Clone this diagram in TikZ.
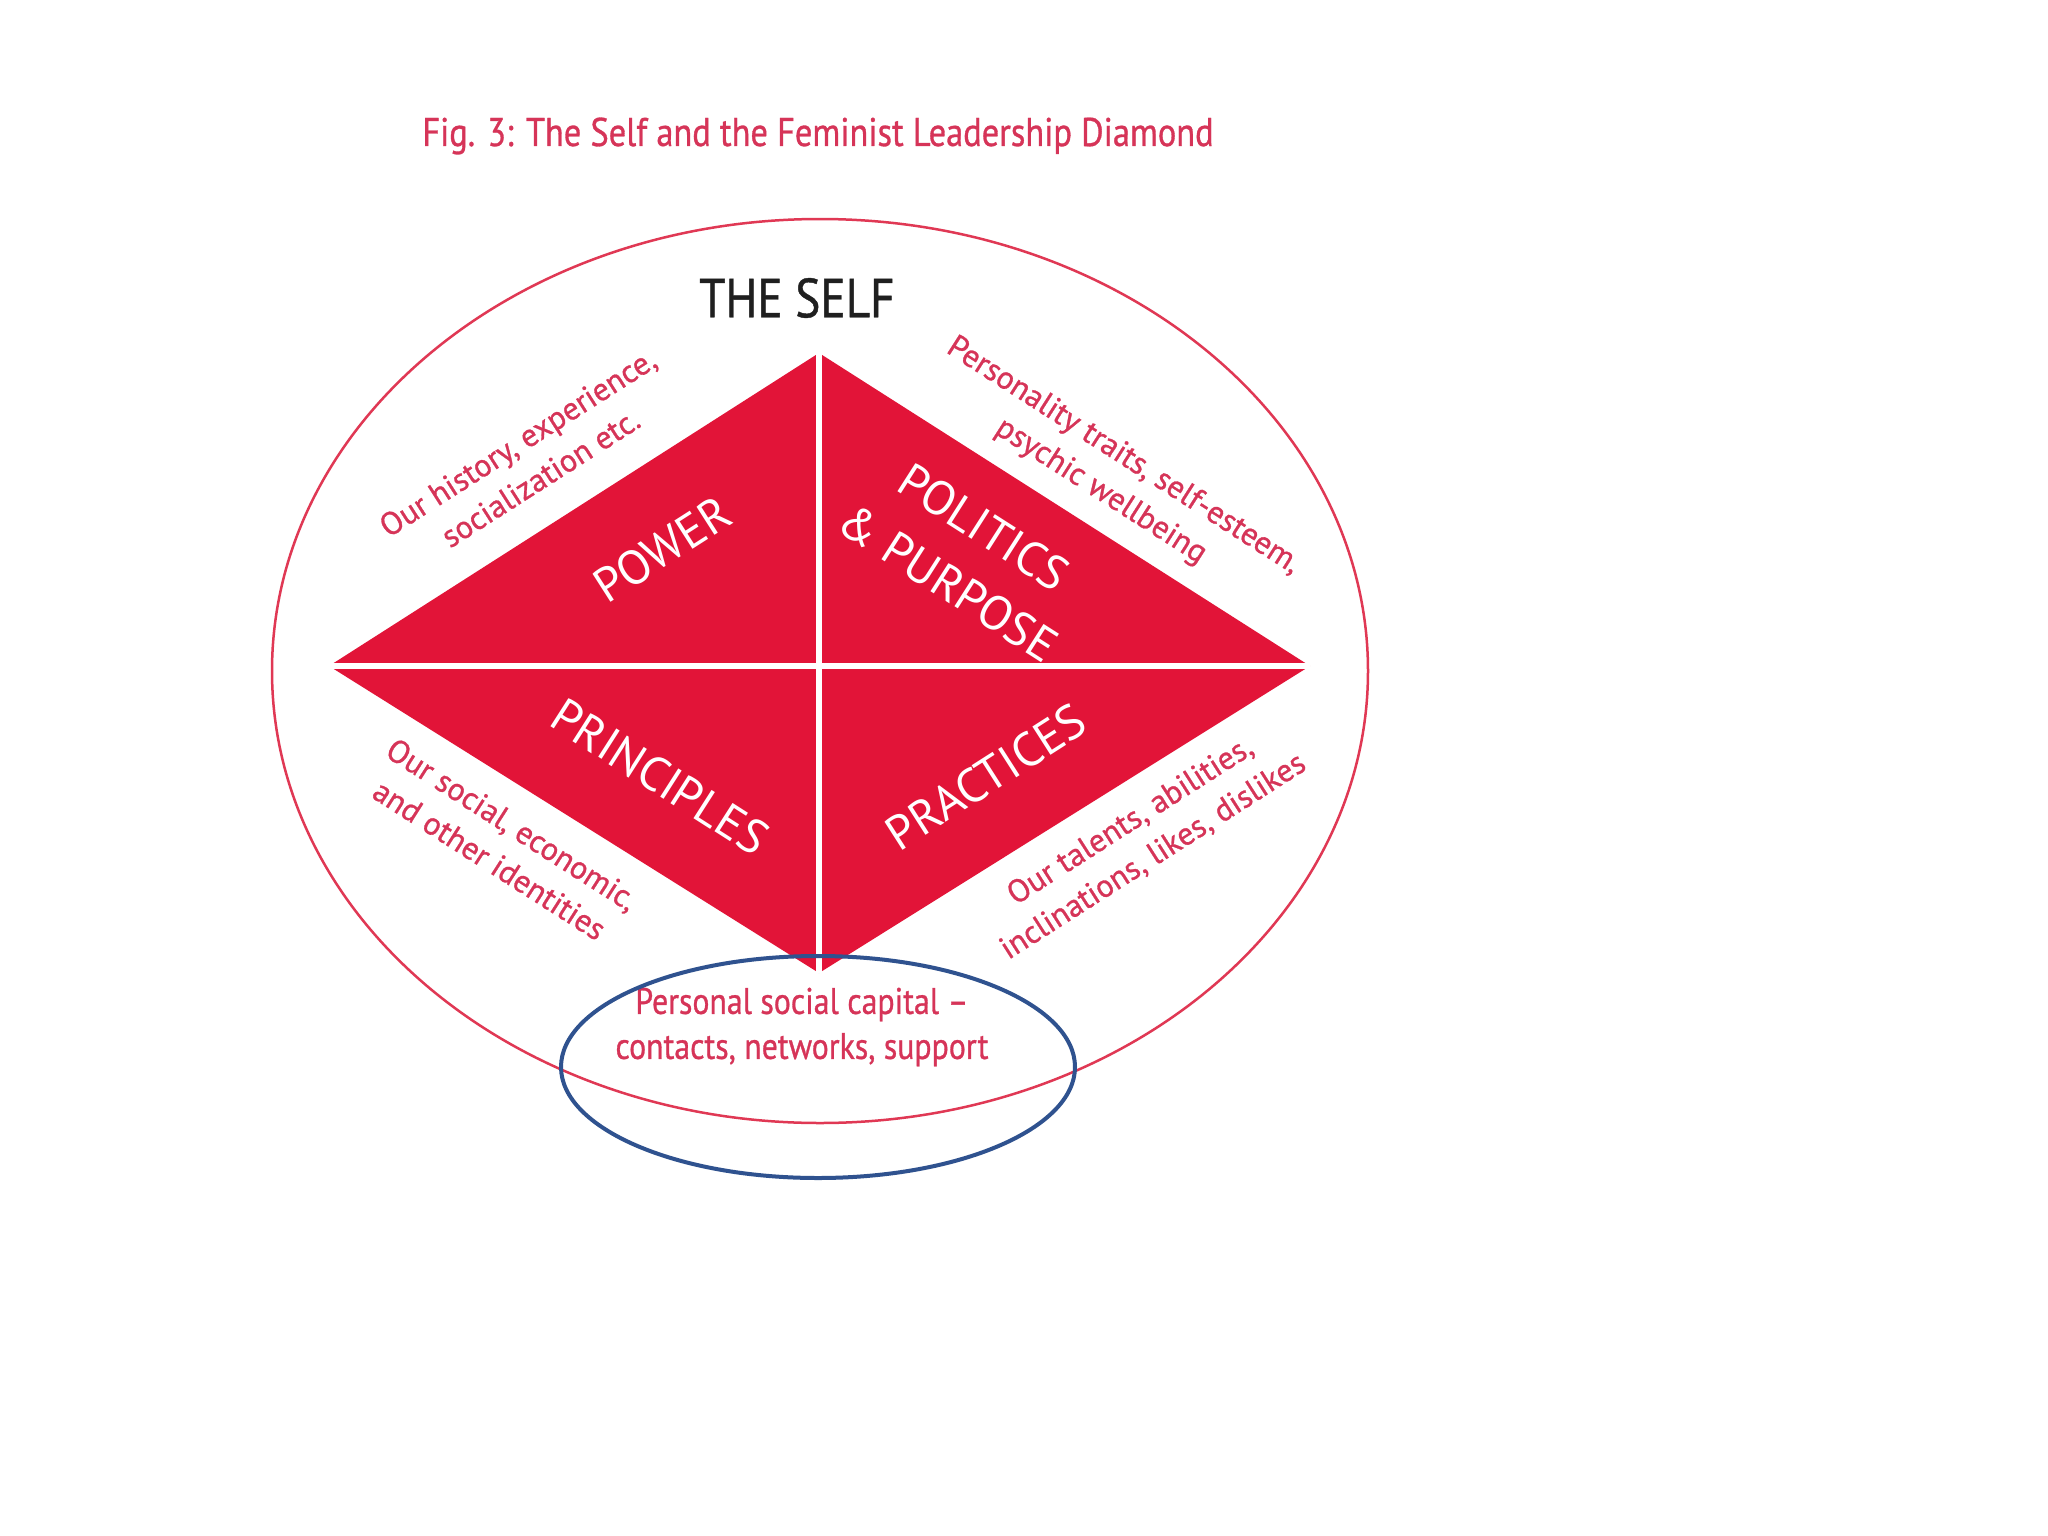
\documentclass[tikz,border=0pt]{standalone}
\usepackage{fontspec}
\setmainfont{PT Sans}
\newfontfamily\condfont{PT Sans}[FakeStretch=0.86, FakeBold=0.8]
\newfontfamily\medfont{PT Sans}[FakeBold=0.9]
\definecolor{dred}{RGB}{226,20,56}
\definecolor{pinktxt}{RGB}{214,52,88}
\definecolor{ellred}{RGB}{224,56,84}
\definecolor{blueell}{RGB}{47,82,143}
\tikzset{
  titletext/.style={text=pinktxt, inner sep=0pt, font=\condfont\fontsize{40}{44}\selectfont},
  selftext/.style={text=black!88, inner sep=0pt, font=\condfont\fontsize{55}{60}\selectfont},
  bigtext/.style={text=white, inner sep=0pt, align=center, font=\fontsize{48}{66}\selectfont},
  smalltext/.style={text=pinktxt, inner sep=0pt, align=center, font=\medfont\fontsize{32}{42}\selectfont},
  captext/.style={text=pinktxt, inner sep=0pt, align=center, font=\condfont\fontsize{37}{45}\selectfont},
  whiteline/.style={draw=white, line width=6pt},
}
\begin{document}
\begin{tikzpicture}[x=1pt,y=-1pt]
\useasboundingbox[fill=white] (0,0) rectangle (2048,1536);
% outer ellipse
\draw[ellred, line width=2.5pt] (820,671) ellipse [x radius=548, y radius=452];
% diamond
\coordinate (T) at (819,353);
\coordinate (L) at (329,666);
\coordinate (R) at (1310,666);
\coordinate (B) at (819,973);
\fill[dred] (T) -- (R) -- (B) -- (L) -- cycle;
\draw[whiteline] (T) -- (B);
\draw[whiteline] (L) -- (R);
% title
\node[titletext] (title) at (818,136) {Fig. 3: The Self and the Feminist Leadership Diamond};
\node[selftext] (self) at (797,298) {THE SELF};
% quadrant labels
\node[bigtext, rotate=32.6] (power) at (662,549) {POWER};
\node[bigtext, rotate=-32.6] (politics) at (966,555) {POLITICS\\\& PURPOSE};
\node[bigtext, rotate=-32.6] (principles) at (660,777) {PRINCIPLES};
\node[bigtext, rotate=32.6] (practices) at (986,777) {PRACTICES};
% side labels
\node[smalltext, rotate=32.6] (history) at (529,460) {Our history, experience,\\socialization etc.};
\node[smalltext, rotate=-32.6] (personality) at (1112,474) {Personality traits, self-esteem,\\psychic wellbeing};
\node[smalltext, rotate=-32.6] (social) at (501,842) {Our social, economic,\\and other identities};
\node[smalltext, rotate=32.6] (talents) at (1142,839) {Our talents, abilities,\\inclinations, likes, dislikes};
\node[captext] (capital) at (802,1027) {Personal social capital –\\contacts, networks, support};
% blue ellipse
\draw[blueell, line width=4pt] (818,1067) ellipse [x radius=257, y radius=111];
\end{tikzpicture}
\end{document}
